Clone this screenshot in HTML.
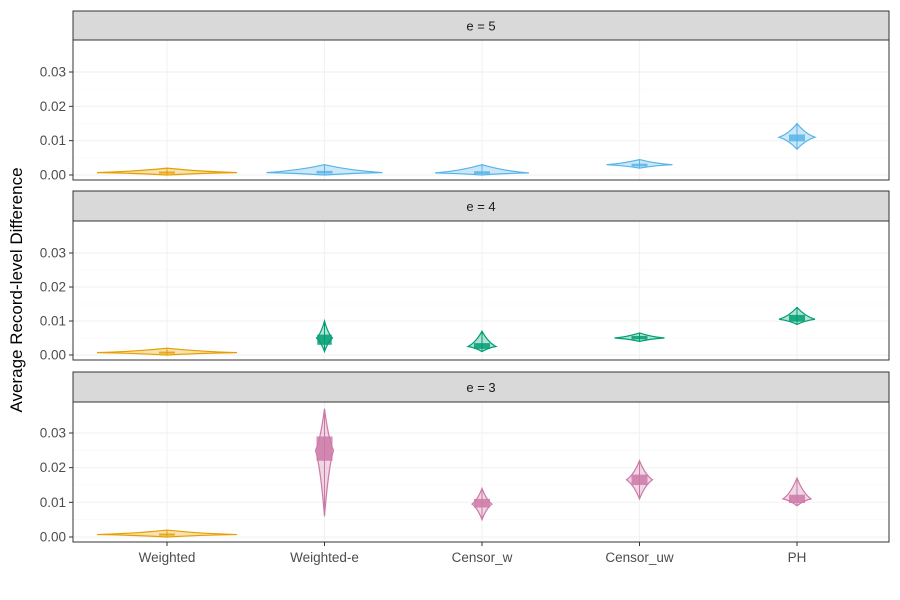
<!DOCTYPE html>
<html><head><meta charset="utf-8"><style>body{margin:0;background:#fff}svg{display:block;font-family:"Liberation Sans",sans-serif}</style></head>
<body>
<svg id="c" width="900" height="600"></svg>
<script>
const categories=["Weighted","Weighted-e","Censor_w","Censor_uw","PH"];
const panels=["e = 5","e = 4","e = 3"];
const yTicks=[0,0.01,0.02,0.03];
const yTickLabels=["0.00","0.01","0.02","0.03"];
// per panel per category: [min, mode, max, q1, q3, halfwidth]
const e5=[[0,0.0007,0.002,0.0004,0.001,70],[0,0.0007,0.003,0.0004,0.0012,58],[0,0.0006,0.003,0.0003,0.0011,47],[0.002,0.003,0.0045,0.0025,0.0033,33],[0.0075,0.011,0.015,0.0098,0.0118,18]];
const e4=[[0,0.0007,0.002,0.0004,0.001,70],[0.001,0.005,0.010,0.003,0.006,8],[0.001,0.0025,0.007,0.0018,0.0035,14],[0.004,0.005,0.0065,0.0046,0.0056,25],[0.009,0.0105,0.014,0.0098,0.0118,18]];
const e3=[[0,0.0007,0.002,0.0004,0.001,70],[0.006,0.025,0.037,0.022,0.029,9],[0.005,0.0095,0.014,0.0085,0.011,10],[0.011,0.0165,0.022,0.015,0.018,13],[0.009,0.011,0.017,0.0098,0.0122,14]];
const panelData=[e5,e4,e3];
const colors=[["#E69F00","#56B4E9","#56B4E9","#56B4E9","#56B4E9"],["#E69F00","#009E73","#009E73","#009E73","#009E73"],["#E69F00","#CC79A7","#CC79A7","#CC79A7","#CC79A7"]];
const NS="http://www.w3.org/2000/svg",svg=document.getElementById('c');
function mk(t,a,p){const e=document.createElementNS(NS,t);for(const k in a)e.setAttribute(k,a[k]);(p||svg).appendChild(e);return e;}
const L=73,R=889;
const layout=[{s:11,t:40,b:180,z:175,top:72},{s:191,t:221,b:360,z:355,top:253},{s:372,t:402,b:542,z:537,top:433}];
const xS=i=>167+i*157.5;
panels.forEach((p,pi)=>{
 const lo=layout[pi];const y=v=>lo.z+(lo.top-lo.z)*v/0.03;
 const g=mk('g',{});
 const st=mk('rect',{x:L,y:lo.s,width:R-L,height:lo.t-lo.s,fill:'#d9d9d9',stroke:'#333','stroke-width':1},g);
 
 const stt=mk('text',{x:(L+R)/2,y:(lo.s+lo.t)/2+5,'text-anchor':'middle','font-size':13,fill:'#1a1a1a'},g);stt.textContent=p;
 
 mk('rect',{x:L,y:lo.t,width:R-L,height:lo.b-lo.t,fill:'#fff'},g);
 yTicks.forEach((v,i)=>{mk('line',{x1:L,x2:R,y1:y(v),y2:y(v),stroke:'#f2f2f2','stroke-width':1.2},g);
  if(i<3)mk('line',{x1:L,x2:R,y1:y(v+0.005),y2:y(v+0.005),stroke:'#f8f8f8','stroke-width':0.6},g);
  mk('line',{x1:L-4,x2:L,y1:y(v),y2:y(v),stroke:'#333'},g);
  const t=mk('text',{x:L-7,y:y(v)+4.5,'text-anchor':'end','font-size':13.5,fill:'#4d4d4d'},g);t.textContent=yTickLabels[i];
  });
 categories.forEach((c,ci)=>mk('line',{x1:xS(ci),x2:xS(ci),y1:lo.t,y2:lo.b,stroke:'#f2f2f2','stroke-width':1.2},g));
 panelData[pi].forEach((d,ci)=>{
  const [mn,mo,mx,q1,q3,w]=d;const cx=xS(ci),col=colors[pi][ci];
  const vg=mk('g',{},g);
  const a=y(mn),m=y(mo),b=y(mx);
  const path=`M${cx},${b} Q${cx+w*0.45},${m-(m-b)*0.25} ${cx+w},${m} Q${cx+w*0.45},${m+(a-m)*0.25} ${cx},${a} Q${cx-w*0.45},${m+(a-m)*0.25} ${cx-w},${m} Q${cx-w*0.45},${m-(m-b)*0.25} ${cx},${b}Z`;
  mk('path',{d:path,fill:col,'fill-opacity':0.3,stroke:col,'stroke-width':1.2},vg);
  mk('line',{x1:cx,x2:cx,y1:b,y2:a,stroke:col,'stroke-width':1},vg);
  const bw=Math.min(8,w*0.9);
  mk('rect',{x:cx-bw,y:y(q3),width:bw*2,height:Math.max(2,y(q1)-y(q3)),fill:col,'fill-opacity':0.85},vg);
 });
 mk('rect',{x:L,y:lo.t,width:R-L,height:lo.b-lo.t,fill:'none',stroke:'#333','stroke-width':1},g);
});
categories.forEach((c,ci)=>{mk('line',{x1:xS(ci),x2:xS(ci),y1:542,y2:546,stroke:'#333'});
 const t=mk('text',{x:xS(ci),y:562,'text-anchor':'middle','font-size':13.5,fill:'#4d4d4d'});t.textContent=c;
 });
const yt=mk('text',{x:22,y:290,'text-anchor':'middle','font-size':17,fill:'#000',transform:'rotate(-90 22 290)'});yt.textContent='Average Record-level Difference';

</script>
</body></html>
